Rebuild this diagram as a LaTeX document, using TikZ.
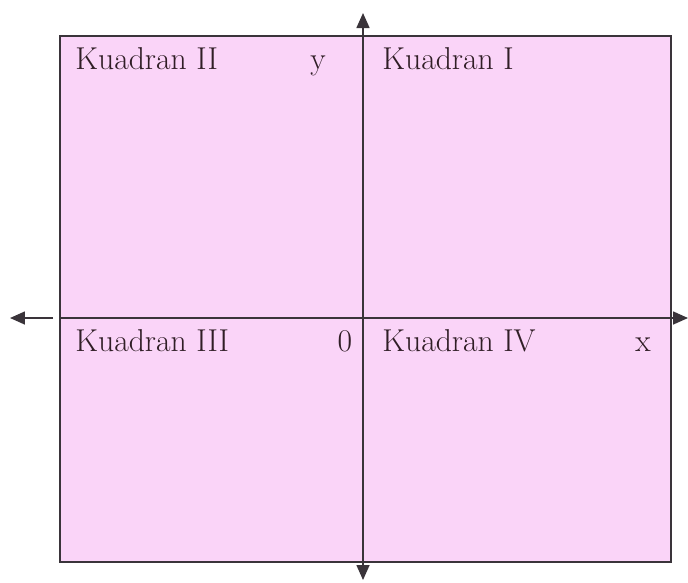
\documentclass[tikz,border=0pt]{standalone}
\usepackage{xcolor}
\definecolor{qpink}{RGB}{250,212,248}
\definecolor{qline}{RGB}{58,52,58}
\definecolor{qtext}{RGB}{48,30,38}
\usetikzlibrary{arrows.meta,positioning}

\begin{document}
\begin{tikzpicture}[
  x=0.02cm, y=-0.02cm,
  qlabel/.style={anchor=base west, inner sep=0pt, text=qtext,
                 font=\fontsize{18}{20}\selectfont},
  qaxis/.style={anchor=base, inner sep=0pt, text=qtext,
                font=\fontsize{18}{20}\selectfont},
  qarr/.style={-{Triangle[length=0.3cm, width=0.26cm]}, line width=0.9pt, draw=qline}
]
\useasboundingbox (0,0) rectangle (688,582);

% Plane
\draw[fill=qpink, draw=qline, line width=0.9pt] (60,36) rectangle (671,562);

% Axis ends
\coordinate (o)    at (363,318);
\coordinate (top)  at (363,13);
\coordinate (bot)  at (363,580);
\coordinate (lft)  at (10,318);
\coordinate (lfte) at (53,318);
\coordinate (lfts) at (60,318);
\coordinate (rgt)  at (688,318);

% Axes
\draw[qarr, {Triangle[length=0.3cm, width=0.26cm]}-{Triangle[length=0.3cm, width=0.26cm]}] (top) -- (bot);
\draw[qarr] (lfte) -- (lft);
\draw[qarr] (lfts) -- (rgt);

% Quadrant labels
\node[qlabel] (q2) at (75,69)  {Kuadran II};
\node[qlabel] (q1) at (382,69) {Kuadran I};
\node[qlabel] (q3) at (75,351) {Kuadran III};
\node[qlabel] (q4) at (382,351) {Kuadran IV};

% Axis names
\node[qaxis] (ly) at (318,69)  {y};
\node[qaxis] (l0) at (345,351) {0};
\node[qaxis] (lx) at (643,351) {x};
\end{tikzpicture}
\end{document}
